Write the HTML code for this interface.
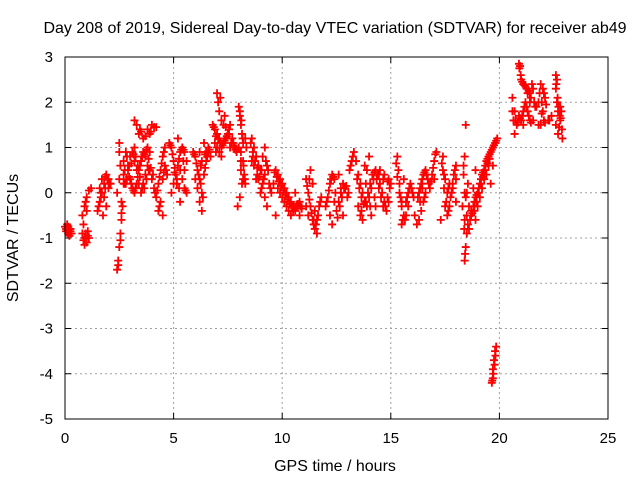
<!DOCTYPE html>
<html><head><meta charset="utf-8"><style>
html,body{margin:0;padding:0;background:#fff}
svg{display:block;font-family:"Liberation Sans",Arial,sans-serif;font-size:15px}
</style></head><body>
<svg id="chart" width="640" height="480" viewBox="0 0 640 480">
<rect width="640" height="480" fill="#fff"/>
<text x="335" y="33" text-anchor="middle" font-size="16">Day 208 of 2019, Sidereal Day-to-day VTEC variation (SDTVAR) for receiver ab49</text>
<text x="335" y="471" text-anchor="middle" font-size="16">GPS time / hours</text>
<text transform="translate(18,238) rotate(-90)" text-anchor="middle" font-size="16">SDTVAR / TECUs</text>
<g id="grid"></g>
<g id="ticks"></g>
<g id="marks"></g>
<rect x="65" y="57" width="543" height="362" fill="none" stroke="#000" stroke-width="1"/>
</svg>
<script>
const xTicks=[0,5,10,15,20,25];
const yTicks=[-5,-4,-3,-2,-1,0,1,2,3];
const times=[0,0.05,0.1,0.15,0.2,0.25,0.3,0.1,0.2,
0.8,0.9,1.0,1.1,0.9,1.05,0.8,0.9,1.0,1.1,1.2,0.95,
1.5,1.6,1.7,1.8,1.9,2.0,1.6,1.7,1.8,1.9,2.0,2.1,1.75,
2.4,2.45,2.5,2.55,2.6,2.65,2.4,2.5,2.55,2.5,2.5,2.6,
3.2,3.4,3.6,3.8,4.0,4.2,3.5,3.9,
2.7,2.8,2.9,3.0,3.1,3.2,3.3,3.4,3.5,3.6,3.7,3.8,3.9,4.0,4.1,3.0,3.1,3.2,3.3,3.4,3.5,3.6,3.7,3.8,3.9,2.9,3.2,2.8,2.7,4.2,4.3,4.4,4.5,4.6,4.4,4.5,4.6,4.7,4.3,4.5,
4.8,4.9,5.0,5.1,5.0,4.9,5.2,5.3,5.4,5.5,5.3,5.4,5.5,5.6,5.2,5.6,5.5,5.3,
5.9,6.0,6.1,6.2,6.1,6.2,6.3,6.4,6.5,6.5,6.6,6.7,6.3,6.4,6.2,6.3,6.0,
6.8,6.9,7.0,7.1,7.0,7.1,7.2,7.3,7.4,7.5,7.6,7.0,7.05,7.1,7.2,7.3,7.4,6.9,7.2,7.6,7.7,7.8,7.9,8.0,
8.0,8.05,8.1,8.15,8.2,8.1,8.2,8.25,8.3,8.1,8.15,8.05,7.95,8.3,8.35,
8.6,8.7,8.8,8.9,9.0,9.1,9.0,8.9,8.7,8.8,8.6,9.2,9.3,9.2,9.3,9.4,9.5,9.1,9.2,
9.7,9.8,9.9,10.0,10.1,10.2,10.3,10.4,10.5,10.6,10.7,10.8,10.9,10.0,10.2,10.4,9.8,9.7,9.6,10.6,10.8,
11.1,11.2,11.3,11.4,11.5,11.6,11.5,11.4,11.3,11.2,11.1,11.7,11.8,11.6,
12.0,12.1,12.2,12.3,12.4,12.2,12.3,12.5,12.6,12.7,12.8,12.9,13.0,12.6,12.8,13.1,13.2,13.3,13.4,
13.5,13.6,13.7,13.8,13.9,14.0,14.1,14.2,14.3,14.4,14.5,14.6,14.7,14.8,14.9,13.6,13.7,13.9,14.1,14.3,14.5,14.7,14.9,15.0,13.5,14.0,13.8,
15.3,15.35,15.4,15.45,15.5,15.6,15.5,15.7,15.8,15.9,16.0,15.8,15.6,16.1,16.2,
16.3,16.4,16.5,16.6,16.7,16.8,16.9,17.0,17.05,17.1,16.5,16.4,16.6,16.3,17.0,
17.4,17.5,17.6,17.5,17.6,17.7,17.8,17.9,18.0,18.0,17.4,17.3,17.7,18.0,
18.45,18.4,18.35,18.4,18.3,18.4,18.5,18.45,18.4,18.5,18.6,18.7,18.55,
18.7,18.8,18.9,19.0,19.1,19.2,19.3,19.4,19.5,19.6,19.7,19.8,19.9,18.9,19.0,19.1,19.2,19.3,19.4,19.5,18.8,18.9,
19.65,19.7,19.7,19.75,19.8,19.85,
20.6,20.7,20.65,20.8,20.9,21.0,21.1,21.2,21.3,21.4,21.1,20.9,20.95,21.0,21.1,21.2,21.4,21.6,21.7,21.3,21.5,21.4,20.7,
21.8,21.9,22.0,22.1,22.0,21.9,22.1,22.3,22.4,21.8,
22.6,22.6,22.65,22.7,22.6,22.7,22.8,22.85,22.9,22.8,22.65,
0.05,0.15,0.25,0.85,0.95,1.05,1.0,0.85,1.55,1.65,1.85,1.95,2.05,1.65,1.85,
2.45,2.55,2.6,2.7,2.75,2.85,2.95,3.05,3.15,3.25,3.35,3.45,3.55,3.65,3.75,3.85,3.95,4.05,2.75,2.85,2.95,3.05,3.15,3.25,3.35,3.45,3.55,3.65,3.75,3.85,3.3,3.45,3.7,3.95,4.1,4.15,4.25,4.35,4.45,4.55,4.65,4.35,4.55,
4.85,4.95,5.05,5.15,5.25,5.35,5.45,5.55,5.05,5.15,5.25,5.45,
5.95,6.05,6.15,6.25,6.35,6.45,6.55,6.65,6.25,6.45,6.6,
6.85,6.95,7.05,7.15,7.25,7.35,7.45,7.55,7.65,7.75,7.85,6.95,7.15,7.35,7.55,7.75,7.9,
8.05,8.12,8.18,8.22,8.28,8.1,8.2,
8.55,8.65,8.75,8.85,8.95,9.05,9.15,8.65,8.85,9.05,9.25,9.35,9.45,
9.65,9.75,9.85,9.95,10.05,10.15,10.25,10.35,10.45,10.55,10.65,10.75,10.85,9.9,10.1,10.3,10.5,10.7,
11.15,11.25,11.35,11.45,11.55,11.65,11.75,11.25,11.45,
12.05,12.15,12.25,12.35,12.45,12.55,12.65,12.75,12.85,12.95,13.05,13.15,13.25,12.4,12.7,
13.45,13.55,13.65,13.75,13.85,13.95,14.05,14.15,14.25,14.35,14.45,14.55,14.65,14.75,14.85,14.95,13.65,13.85,14.05,14.25,14.45,14.65,14.85,
15.25,15.3,15.4,15.5,15.55,15.65,15.75,15.85,15.95,16.05,15.7,
16.25,16.35,16.45,16.55,16.65,16.75,16.85,16.95,16.45,16.55,16.35,
17.35,17.45,17.55,17.65,17.75,17.85,17.95,17.45,17.65,17.85,
18.35,18.45,18.55,18.65,18.5,18.6,18.42,18.38,
18.75,18.85,18.95,19.05,19.15,19.25,19.35,19.45,19.55,19.65,19.75,19.85,18.85,18.95,19.05,19.15,19.25,19.35,19.45,19.55,19.6,19.7,
19.67,19.72,19.78,19.82,
20.6,20.65,20.75,20.85,20.95,21.05,21.15,21.25,21.35,21.45,21.55,21.65,20.92,20.98,21.05,21.15,21.25,21.35,21.45,21.55,
21.85,21.95,22.05,22.15,22.25,21.95,22.05,
22.62,22.68,22.72,22.78,22.82,22.88,22.75];
const values=[-0.75,-0.8,-0.85,-0.9,-0.8,-0.85,-0.9,-0.7,-0.95,
-0.9,-1.0,-1.1,-1.0,-1.15,-0.85,-0.5,-0.3,-0.1,0.05,0.1,-0.2,
-0.4,-0.2,0,0.2,0.4,0.3,0.1,0.3,-0.1,-0.3,0.1,0.2,-0.5,
-1.7,-1.5,-1.2,-0.9,-0.6,-0.3,0,0.3,0.6,0.9,1.1,-0.2,
1.6,1.3,1.2,1.4,1.5,1.45,1.35,1.3,
0.4,0.2,0.5,0.8,0.9,0.7,0.5,0.2,0.0,0.2,0.4,0.6,0.5,0.3,0.1,0.3,0.1,0.0,0.2,0.5,0.7,0.9,0.8,1.0,0.9,0.6,1.0,0.9,0.7,-0.1,0.2,0.5,0.8,1.0,-0.2,0.3,0.6,0.4,-0.4,-0.5,
1.1,1.0,0.7,0.4,0.2,0.0,0.6,0.9,1.0,0.9,0.5,0.3,0.1,0.0,1.2,0.7,0.5,-0.2,
0.9,0.8,0.5,0.3,0.1,-0.2,0.0,0.4,0.7,0.9,1.0,0.8,0.7,1.1,0.9,-0.4,0.3,
1.5,1.4,1.3,1.2,1.0,0.9,1.0,1.1,1.2,1.3,1.0,2.2,2.0,1.8,1.6,1.5,1.45,1.1,0.8,1.5,1.2,1.0,0.9,1.0,
1.9,1.7,1.5,1.3,1.1,0.9,0.7,0.4,0.2,0.5,0.2,-0.1,-0.3,1.2,1.0,
1.2,1.0,0.8,0.6,0.5,0.2,0.0,0.3,0.6,0.3,0.7,0.4,0.6,-0.1,-0.3,0.2,0.0,0.8,1.0,
0.5,0.4,0.3,0.2,0.1,0,-0.1,-0.2,-0.3,-0.4,-0.3,-0.2,-0.35,-0.1,-0.3,-0.5,0.1,-0.5,0.2,0.0,-0.5,
0.3,0.0,-0.3,-0.6,-0.8,-0.6,-0.4,0.2,0.5,-0.5,-0.3,-0.3,-0.1,-0.9,
-0.3,-0.1,0.2,0.4,0.3,-0.5,-0.7,-0.4,-0.2,0,0.2,0.1,-0.1,0.4,-0.5,0.5,0.7,0.9,0.7,
0.4,0.2,0.0,-0.2,-0.3,-0.1,0.1,0.3,0.5,0.4,0.2,0.0,-0.2,-0.4,-0.2,-0.5,-0.6,0.5,-0.5,-0.3,0.5,0.4,0.3,0.2,-0.3,0.8,0.6,
0.8,0.5,0.2,-0.1,-0.3,-0.5,-0.7,-0.2,0.0,0.2,0.0,-0.3,0.3,-0.5,-0.7,
0.0,0.2,0.4,0.5,0.3,0.1,0.4,0.7,0.85,0.9,-0.2,-0.4,0.0,-0.6,0.3,
0.5,0.3,0.0,-0.3,-0.5,-0.3,0,0.4,0.6,0.3,0.8,-0.6,0.2,-0.2,
1.5,0.8,0.4,0.0,-0.3,-0.6,-0.9,-1.2,-1.5,-0.5,-0.8,-0.4,0.2,
-0.5,-0.3,-0.1,0.0,0.2,0.4,0.5,0.7,0.8,0.9,1.0,1.1,1.2,-0.6,-0.3,-0.1,0.1,0.3,0.4,0.6,0.1,0.5,
-4.2,-4.1,-3.9,-3.7,-3.5,-3.4,
2.1,1.8,1.6,1.5,1.7,1.6,1.8,2.0,1.8,1.6,1.5,2.85,2.8,2.5,2.4,2.35,2.2,2.0,1.9,2.2,2.4,2.0,1.3,
2.0,2.4,2.3,2.1,1.8,1.5,1.55,1.6,1.7,1.5,
2.6,2.3,2.0,1.8,1.5,1.3,1.6,1.8,1.2,1.9,2.5,
-0.85,-0.75,-0.8,-1.05,-0.9,-0.95,-0.4,-0.7,-0.3,-0.1,0.1,0.3,0.2,0.0,0.35,
-1.6,-1.05,-0.45,0.2,0.5,0.3,0.35,0.65,0.85,0.8,0.6,0.35,0.1,0.1,0.3,0.5,0.55,0.4,0.2,0.8,0.6,0.2,0.05,0.1,0.35,0.6,0.8,0.85,0.95,0.75,1.5,1.4,1.25,1.35,1.45,0.0,0.05,0.35,0.65,0.9,0.5,-0.3,0.45,
1.05,0.85,0.55,0.3,0.75,0.95,0.95,0.05,0.45,0.2,0.1,0.7,
0.85,0.65,0.4,0.2,-0.1,0.55,0.8,0.95,0.6,0.85,0.9,
1.45,1.25,1.2,1.1,1.05,1.15,1.25,1.3,1.1,1.05,0.95,0.9,2.1,1.7,1.4,1.1,0.95,
1.8,1.6,1.2,0.6,0.3,0.7,0.3,
1.1,0.9,0.7,0.55,0.35,0.1,0.3,0.8,0.4,0.5,0.7,0.5,0.1,
0.45,0.35,0.25,0.15,0.05,-0.05,-0.15,-0.25,-0.3,-0.35,-0.3,-0.25,-0.3,0.0,-0.2,-0.4,-0.4,-0.25,
0.15,-0.15,-0.45,-0.7,-0.7,-0.5,-0.2,0.3,-0.6,
-0.2,0.05,0.3,0.35,0.0,-0.55,-0.3,-0.1,0.1,0.15,0.0,0.6,0.8,-0.2,0.1,
0.3,0.1,-0.1,-0.25,-0.2,0.0,0.2,0.4,0.45,0.3,0.1,-0.1,-0.3,-0.3,-0.1,0.1,-0.4,0.2,-0.3,-0.1,0.4,0.3,0.25,
0.65,0.35,0.0,-0.2,-0.6,-0.6,-0.1,0.1,0.1,-0.1,-0.5,
-0.1,0.1,0.3,0.45,0.4,0.2,0.25,0.55,0.1,-0.1,-0.2,
0.65,0.1,-0.2,-0.4,-0.1,0.2,0.5,0.4,0.1,0.1,
0.6,-0.1,-0.7,-0.6,0.0,-0.3,-1.35,-0.8,
-0.45,-0.2,-0.05,0.1,0.3,0.45,0.6,0.75,0.85,0.95,1.05,1.15,-0.4,-0.2,0.0,0.2,0.35,0.5,0.65,0.75,0.2,0.6,
-4.15,-4.0,-3.8,-3.6,
1.8,1.6,1.6,1.55,1.65,1.7,1.9,1.9,1.7,1.55,1.6,1.9,2.75,2.6,2.45,2.38,2.3,2.25,2.1,2.3,
2.2,2.0,2.2,1.95,1.6,1.75,1.6,
2.4,2.1,1.9,1.7,1.65,1.4,1.45];
const L=65,R=608,T=57,B=419;
const xMin=0,xMax=25,yMin=-5,yMax=3;
const sx=v=>L+(v-xMin)/(xMax-xMin)*(R-L);
const sy=v=>B-(v-yMin)/(yMax-yMin)*(B-T);
const NS='http://www.w3.org/2000/svg';
const grid=document.getElementById('grid'),ticks=document.getElementById('ticks'),marks=document.getElementById('marks');
function mk(tag,attrs,parent){const e=document.createElementNS(NS,tag);for(const k in attrs)e.setAttribute(k,attrs[k]);parent.appendChild(e);return e;}
xTicks.forEach(t=>{const x=sx(t);
 if(t>xMin&&t<xMax){const g=mk('line',{x1:x,y1:T,x2:x,y2:B,stroke:'#a0a0a0','stroke-dasharray':'2,3'},grid);
 
 }
 mk('line',{x1:x,y1:B,x2:x,y2:B-6,stroke:'#000'},ticks);
 mk('line',{x1:x,y1:T,x2:x,y2:T+6,stroke:'#000'},ticks);
 const lb=mk('text',{x:x,y:B+24,'text-anchor':'middle'},ticks);lb.textContent=t;
 
 });
yTicks.forEach(t=>{const y=sy(t);
 if(t>yMin&&t<yMax){const g=mk('line',{x1:L,y1:y,x2:R,y2:y,stroke:'#a0a0a0','stroke-dasharray':'2,3'},grid);
 
 }
 mk('line',{x1:L,y1:y,x2:L+6,y2:y,stroke:'#000'},ticks);
 mk('line',{x1:R,y1:y,x2:R-6,y2:y,stroke:'#000'},ticks);
 const lb=mk('text',{x:L-12,y:y+5,'text-anchor':'end'},ticks);lb.textContent=t;
 
 });
times.forEach((t,i)=>{const x=sx(t),y=sy(values[i]);
 const p=mk('path',{d:`M${x-4},${y}H${x+4}M${x},${y-4}V${y+4}`,stroke:'#ff0000','stroke-width':1.8,fill:'none'},marks);
 
 });
</script>
</body></html>
